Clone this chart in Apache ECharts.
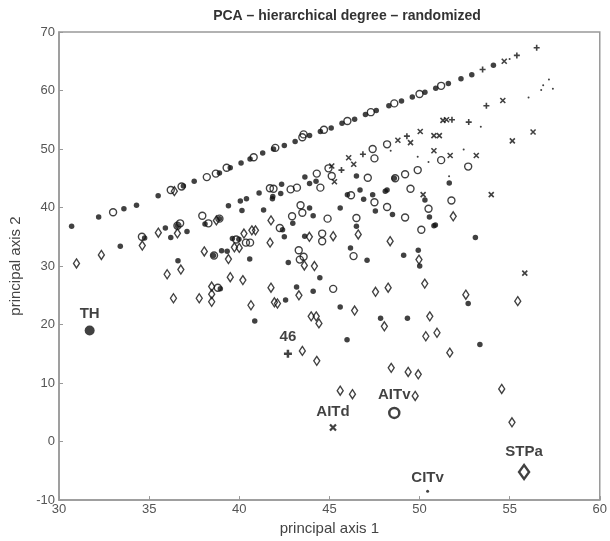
<!DOCTYPE html>
<html><head><meta charset="utf-8">
<script src="https://cdn.jsdelivr.net/npm/echarts@6/dist/echarts.min.js"></script>
<style>html,body{margin:0;padding:0;background:#fff}#c{width:610px;height:541px}</style>
</head><body><div id="c"></div>
<script>
// ---- data ----
const titleText = 'PCA \u2013 hierarchical degree \u2013 randomized';
const xTicks = [30, 35, 40, 45, 50, 55, 60];
const yTicks = [-10, 0, 10, 20, 30, 40, 50, 60, 70];

const filledPts = [
 [30.7,36.8],[32.2,38.4],[33.6,39.8],[34.3,40.4],[35.5,42.0],[36.9,43.7],[37.5,44.5],[38.9,45.9],[39.5,46.8],[40.1,47.6],
 [40.6,48.3],[41.3,49.3],[41.9,50.0],[42.5,50.6],[43.1,51.3],[43.9,52.3],[44.5,53.0],[45.1,53.6],[45.7,54.4],[46.4,55.1],
 [47.0,55.9],[47.6,56.6],[48.3,57.4],[49.0,58.2],[49.6,58.9],[50.3,59.7],[50.9,60.4],[51.6,61.2],[52.3,62.0],[52.9,62.7],[54.1,64.3],
 [33.4,33.4],[34.75,34.8],[35.9,36.5],[36.2,34.9],[36.6,30.9],[37.1,35.9],[38.1,37.2],[38.57,31.8],[38.95,26.1],[39.4,40.3],
 [39.33,32.55],[39.98,34.6],[40.06,41.1],[40.15,39.5],[40.4,41.5],[41.1,42.5],[41.86,41.9],[42.3,42.4],[42.35,44.0],[43.9,44.1],
 [43.64,45.2],[44.26,44.5],[41.35,39.6],[41.84,41.5],[42.4,36.2],[42.97,37.3],[42.5,35.0],[43.9,39.9],[44.1,38.6],[45.6,39.9],
 [46.0,42.2],[46.7,43.0],[46.9,41.4],[46.5,45.4],[47.4,42.2],[47.55,39.4],[48.2,43.0],[48.1,42.8],[48.5,38.8],[50.3,41.3],[50.55,38.4],
 [50.8,36.9],[51.65,44.2],[53.1,34.9],[52.7,23.6],[53.35,16.6],[40.58,31.2],[40.86,20.6],[39.02,32.6],[39.62,34.7],[42.72,30.6],
 [42.57,24.2],[43.18,26.4],[43.63,35.1],[44.1,25.7],[44.47,28.0],[45.6,23.0],[45.98,17.4],[46.17,33.1],[46.5,36.8],[47.09,31.0],
 [47.84,21.1],[49.12,31.85],[49.93,32.7],[50.01,30.0],[49.33,21.1],[50.88,37.0],[36.57,36.9],[38.9,38.1],[48.6,45.0]
];
const circlePts = [
 [33.0,39.2],[36.2,43.0],[36.8,43.6],[38.2,45.2],[38.7,45.8],[39.3,46.8],[40.8,48.6],[42.0,50.2],[43.5,52.0],[44.7,53.3],
 [46.0,54.8],[47.3,56.3],[48.6,57.8],[50.0,59.4],[51.2,60.8],[43.57,52.5],
 [34.6,35.0],[36.57,36.9],[36.72,37.3],[37.95,38.6],[38.29,37.3],[38.9,38.1],[38.6,31.8],[39.83,34.55],[40.37,34.0],[40.6,34.0],
 [41.7,43.3],[41.9,43.2],[42.25,36.5],[42.85,43.1],[43.2,43.4],[42.93,38.5],[43.4,40.4],[43.5,39.1],[43.3,32.7],[43.57,31.6],
 [43.36,31.1],[44.3,45.8],[44.5,43.4],[44.6,35.55],[44.6,34.25],[44.9,38.1],[45.13,45.4],[44.95,46.7],[45.21,26.1],[46.34,31.7],
 [46.5,38.2],[47.13,45.1],[47.5,48.4],[47.5,40.9],[48.2,40.1],[48.65,45.0],[49.2,45.7],[49.2,38.3],[49.5,43.2],[49.9,46.4],
 [50.5,39.8],[50.1,36.2],[51.2,48.1],[51.77,41.2],[52.7,47.0],[47.4,50.0],[48.2,50.8],[38.81,26.3],[46.2,42.1]
];
const diamondPts = [
 [30.97,30.45],[32.35,31.9],[34.62,33.5],[35.51,35.7],[36.0,28.6],[36.76,29.4],[36.35,24.5],[36.57,35.6],[36.4,42.8],[37.78,24.5],
 [38.06,32.5],[38.47,26.5],[38.47,25.2],[38.47,23.9],[39.4,31.2],[39.5,28.1],[40.0,33.1],[38.73,37.8],[39.73,33.2],[40.2,27.6],
 [40.26,35.55],[40.7,36.1],[40.9,36.1],[40.65,23.3],[41.76,26.3],[41.71,34.0],[41.76,37.8],[42.12,23.6],[41.95,23.8],[43.31,25.0],
 [43.61,30.1],[43.89,35.0],[43.99,21.4],[44.27,21.4],[44.42,20.2],[44.17,30.0],[45.21,35.1],[46.4,22.4],[46.6,35.4],[47.56,25.6],
 [48.05,19.7],[48.26,26.3],[48.37,34.25],[49.97,31.1],[50.29,27.0],[50.57,21.4],[50.35,18.0],[50.97,18.6],[51.68,15.2],[51.87,38.5],
 [52.57,25.1],[55.45,24.0],[43.5,15.5],[44.3,13.8],[48.43,12.6],[49.37,11.9],[49.93,11.5],[45.6,8.7],[46.28,8.1],[49.76,7.8],
 [54.56,9.0],[55.13,3.3]
];
const crossPts = [
 [45.28,44.4],[53.98,42.2],[55.84,28.8],[54.7,65.0],[45.13,47.1],[46.07,48.5],[46.35,47.4],[48.8,51.5],[49.5,51.1],[50.04,53.0],
 [50.8,52.3],[51.1,52.3],[51.3,54.9],[51.5,55.0],[54.62,58.3],[56.3,52.9],[55.15,51.4],[51.7,48.9],[53.15,48.9],[50.8,49.7],[50.2,42.2]
];
const plusPts = [
 [53.5,63.6],[55.4,66.0],[56.5,67.3],[45.67,46.4],[46.86,49.1],[49.3,52.2],[51.8,55.0],[52.73,54.6],[53.71,57.4]
];
const pointPts = [
 [56.75,60.1],[56.86,60.9],[57.18,61.9],[57.4,60.3],[56.05,58.8],[53.4,53.8],[48.4,49.7],[52.45,49.9],[51.64,45.35],[50.5,47.8],[55.0,65.4],[49.9,48.7]
];
// labelled areas
const labelNames = ['TH', '46', 'AITd', 'AITv', 'CITv', 'STPa'];
const labelX = [31.7, 42.7, 45.2, 48.6, 50.45, 55.8];
const labelY = [19.0, 15.0, 2.4, 4.9, -8.5, -5.2];

// ---- chart ----
const ink = '#111';
const font = 'Liberation Sans, Arial, sans-serif';
const crossPath = 'path://M0,0L10,10M10,0L0,10';
const plusPath = 'path://M5,0L5,10M0,5L10,5';
const hollow = {color: 'rgba(0,0,0,0)', borderColor: ink, borderWidth: 1.4};
const stroke = {color: 'rgba(0,0,0,0)', borderColor: ink, borderWidth: 1.6};
const lblStyle = {show: true, position: 'top', distance: 4, formatter: p => p.name,
  color: '#111', fontSize: 15, fontWeight: 'bold', fontFamily: font};
function lbl(i) { return {name: labelNames[i], value: [labelX[i], labelY[i]]}; }

const chart = echarts.init(document.getElementById('c'), null, {renderer: 'canvas'});
chart.setOption({
  animation: false,
  backgroundColor: '#fff',
  title: {text: titleText, left: 342, textAlign: 'center', top: 4,
    textStyle: {fontSize: 14, fontWeight: 'bold', color: '#333', fontFamily: font}},
  grid: {left: 56, right: 4, top: 32, bottom: 23, show: true, borderColor: '#999', borderWidth: 1.5, backgroundColor: '#fff'},
  xAxis: {type: 'value', min: 30, max: 60, interval: 5,
    name: 'principal axis 1', nameLocation: 'middle', nameGap: 16,
    nameTextStyle: {fontSize: 15, color: '#444', fontFamily: font},
    axisLine: {show: true, onZero: false, lineStyle: {color: '#999', width: 1.5}},
    axisTick: {show: true, inside: true, length: 4, lineStyle: {color: '#999'}},
    axisLabel: {fontSize: 13, color: '#555', margin: 3, fontFamily: font},
    splitLine: {show: false}},
  yAxis: {type: 'value', min: -10, max: 70, interval: 10,
    name: 'principal axis 2', nameLocation: 'middle', nameGap: 36, nameRotate: 90,
    nameTextStyle: {fontSize: 15, color: '#444', fontFamily: font},
    axisLine: {show: true, onZero: false, lineStyle: {color: '#999', width: 1.5}},
    axisTick: {show: true, inside: true, length: 4, lineStyle: {color: '#999'}},
    axisLabel: {fontSize: 13, color: '#555', margin: 4, fontFamily: font},
    splitLine: {show: false}},
  series: [
    {type: 'scatter', data: diamondPts, symbol: 'diamond', symbolSize: [6, 9], itemStyle: hollow},
    {type: 'scatter', data: circlePts, symbol: 'circle', symbolSize: 7, itemStyle: hollow},
    {type: 'scatter', data: filledPts, symbol: 'circle', symbolSize: 5.5, itemStyle: {color: ink}},
    {type: 'scatter', data: crossPts, symbol: crossPath, symbolSize: 5, itemStyle: stroke},
    {type: 'scatter', data: plusPts, symbol: plusPath, symbolSize: 6, itemStyle: stroke},
    {type: 'scatter', data: pointPts, symbol: 'circle', symbolSize: 2, itemStyle: {color: ink}},
    {type: 'scatter', data: [lbl(0)], symbol: 'circle', symbolSize: 10, itemStyle: {color: ink}, label: lblStyle},
    {type: 'scatter', data: [lbl(1)], symbol: plusPath, symbolSize: 8, itemStyle: {color: 'rgba(0,0,0,0)', borderColor: ink, borderWidth: 2.5}, label: lblStyle},
    {type: 'scatter', data: [lbl(2)], symbol: crossPath, symbolSize: 6, itemStyle: {color: 'rgba(0,0,0,0)', borderColor: ink, borderWidth: 2.2}, label: lblStyle},
    {type: 'scatter', data: [lbl(3)], symbol: 'circle', symbolSize: 10, itemStyle: {color: 'rgba(0,0,0,0)', borderColor: ink, borderWidth: 2.5}, label: lblStyle},
    {type: 'scatter', data: [lbl(4)], symbol: 'circle', symbolSize: 3, itemStyle: {color: ink}, label: lblStyle},
    {type: 'scatter', data: [lbl(5)], symbol: 'diamond', symbolSize: [10, 14], itemStyle: {color: 'rgba(0,0,0,0)', borderColor: ink, borderWidth: 2.5}, label: lblStyle}
  ]
});
</script></body></html>
